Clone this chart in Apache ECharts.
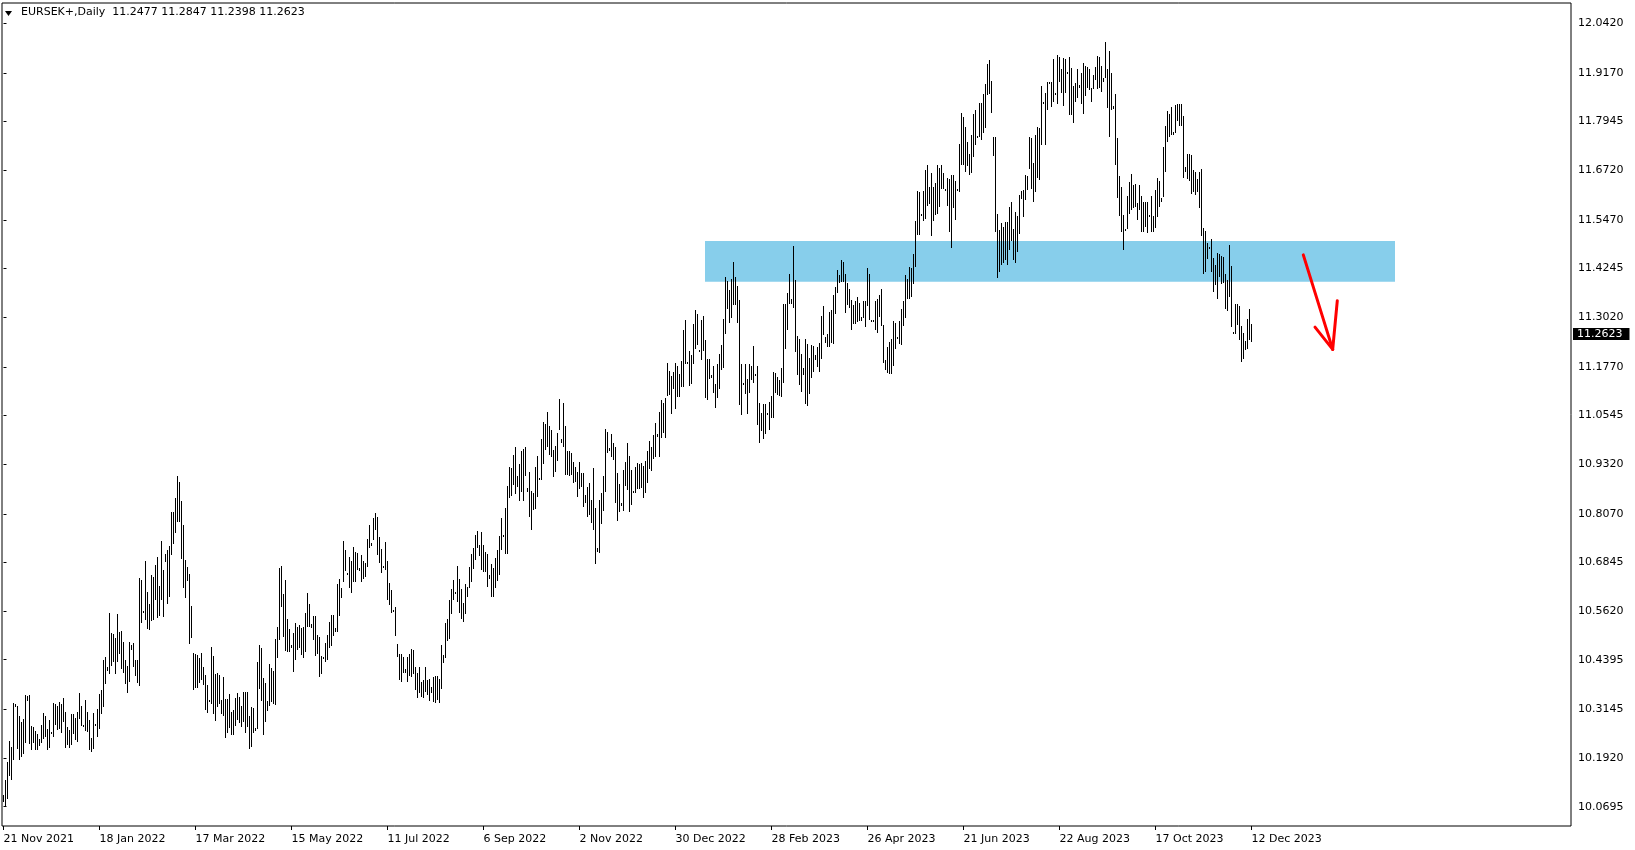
<!DOCTYPE html>
<html>
<head>
<meta charset="utf-8">
<script src="https://cdn.jsdelivr.net/npm/echarts@6/dist/echarts.min.js"></script>
<style>
html,body{margin:0;padding:0;background:#fff;}
#chart{width:1635px;height:850px;}
</style>
</head>
<body>
<div id="chart"></div>
<script>
// ---- DATA ----
const symbolTitle = 'EURSEK+,Daily';
const lastBar = [11.2477, 11.2847, 11.2398, 11.2623]; // O H L C
const dateLabels = ['21 Nov 2021','18 Jan 2022','17 Mar 2022','15 May 2022','11 Jul 2022','6 Sep 2022','2 Nov 2022','30 Dec 2022','28 Feb 2023','26 Apr 2023','21 Jun 2023','22 Aug 2023','17 Oct 2023','12 Dec 2023'];
const dateLabelBars = [0,48,96,144,192,240,288,336,384,432,480,528,576,624];
const priceTicks = [10.0695,10.1920,10.3145,10.4395,10.5620,10.6845,10.8070,10.9320,11.0545,11.1770,11.3020,11.4245,11.5470,11.6720,11.7945,11.9170,12.0420];
// daily bars: [high, low]
const highLow = [
[10.098,10.081],[10.137,10.068],[10.183,10.089],[10.234,10.148],[10.221,10.137],[10.331,10.188],[10.329,10.320],[10.323,10.215],[10.299,10.186],[10.283,10.194],
[10.291,10.203],[10.351,10.230],[10.348,10.336],[10.350,10.228],[10.272,10.213],[10.270,10.230],[10.260,10.213],[10.253,10.213],[10.241,10.222],[10.274,10.230],
[10.306,10.241],[10.299,10.246],[10.266,10.213],[10.287,10.218],[10.258,10.255],[10.330,10.246],[10.329,10.274],[10.322,10.263],[10.333,10.266],[10.327,10.255],
[10.344,10.283],[10.308,10.218],[10.270,10.226],[10.262,10.218],[10.304,10.224],[10.304,10.252],[10.294,10.238],[10.308,10.232],[10.357,10.291],[10.322,10.273],
[10.274,10.272],[10.337,10.260],[10.309,10.258],[10.287,10.211],[10.243,10.207],[10.306,10.215],[10.277,10.273],[10.316,10.246],[10.354,10.266],[10.364,10.304],
[10.438,10.320],[10.446,10.378],[10.420,10.411],[10.558,10.403],[10.508,10.423],[10.504,10.434],[10.495,10.403],[10.554,10.434],[10.509,10.453],[10.512,10.417],
[10.484,10.407],[10.438,10.378],[10.425,10.357],[10.483,10.383],[10.476,10.463],[10.482,10.420],[10.440,10.398],[10.438,10.381],[10.645,10.373],[10.640,10.532],
[10.562,10.558],[10.687,10.540],[10.609,10.517],[10.581,10.514],[10.652,10.537],[10.648,10.540],[10.677,10.589],[10.698,10.545],[10.624,10.549],[10.739,10.591],
[10.665,10.547],[10.705,10.686],[10.717,10.579],[10.725,10.598],[10.812,10.703],[10.812,10.730],[10.848,10.759],[10.902,10.787],[10.886,10.787],[10.839,10.692],
[10.780,10.619],[10.690,10.596],[10.672,10.637],[10.656,10.478],[10.575,10.493],[10.456,10.364],[10.455,10.369],[10.452,10.368],[10.445,10.381],[10.456,10.388],
[10.421,10.375],[10.400,10.314],[10.375,10.305],
[10.338,10.333],[10.472,10.328],[10.450,10.304],[10.403,10.286],[10.405,10.321],[10.400,10.328],[10.338,10.304],
[10.397,10.298],[10.341,10.243],[10.341,10.254],[10.353,10.268],[10.307,10.250],[10.313,10.250],[10.342,10.273],[10.355,10.288],[10.346,10.281],[10.323,10.271],
[10.359,10.283],[10.359,10.254],[10.359,10.271],[10.298,10.216],[10.321,10.219],[10.319,10.254],[10.267,10.261],[10.435,10.264],[10.477,10.367],[10.470,10.336],
[10.394,10.250],[10.380,10.283],[10.336,10.311],[10.429,10.324],[10.418,10.334],[10.411,10.327],[10.492,10.326],[10.523,10.443],[10.671,10.489],[10.676,10.573],
[10.605,10.498],[10.640,10.461],[10.542,10.458],[10.516,10.460],[10.477,10.470],[10.508,10.409],[10.531,10.440],[10.523,10.464],[10.527,10.468],[10.519,10.451],
[10.523,10.443],[10.556,10.458],[10.607,10.523],[10.580,10.523],[10.530,10.520],[10.550,10.488],[10.550,10.449],[10.502,10.454],[10.496,10.395],[10.449,10.404],
[10.447,10.443],[10.482,10.435],[10.502,10.440],[10.535,10.468],[10.552,10.475],[10.552,10.500],[10.519,10.510],[10.630,10.509],[10.643,10.550],[10.619,10.596],
[10.739,10.634],[10.716,10.663],[10.659,10.657],[10.699,10.621],[10.689,10.608],[10.724,10.636],[10.712,10.634],[10.708,10.666],[10.671,10.664],[10.703,10.634],
[10.689,10.642],[10.682,10.647],[10.744,10.674],[10.779,10.720],[10.733,10.727],[10.797,10.741],[10.808,10.766],[10.798,10.702],[10.748,10.682],[10.718,10.657],
[10.676,10.670],[10.737,10.666],[10.687,10.590],[10.632,10.577],[10.614,10.556],[10.565,10.559],[10.573,10.499],[10.479,10.446],[10.454,10.388],[10.453,10.384],
[10.447,10.405],[10.415,10.405],[10.447,10.384],[10.454,10.398],[10.466,10.395],[10.464,10.404],[10.422,10.363],[10.407,10.344],[10.422,10.355],[10.384,10.346],
[10.388,10.344],
[10.422,10.359],[10.388,10.350],[10.390,10.336],[10.371,10.356],[10.395,10.334],[10.398,10.331],[10.399,10.339],[10.390,10.331],[10.476,10.367],
[10.451,10.432],[10.533,10.443],[10.542,10.487],[10.590,10.491],[10.618,10.555],[10.640,10.591],[10.609,10.605],[10.676,10.584],[10.644,10.558],[10.618,10.541],
[10.583,10.535],[10.630,10.554],[10.623,10.597],[10.674,10.619],[10.706,10.636],[10.720,10.667],[10.754,10.691],[10.764,10.720],[10.728,10.701],[10.762,10.665],
[10.728,10.661],[10.712,10.661],[10.707,10.623],[10.652,10.643],[10.681,10.598],[10.670,10.597],[10.695,10.619],[10.716,10.639],[10.751,10.653],[10.796,10.716],
[10.754,10.749],[10.821,10.707],[10.876,10.707],[10.924,10.846],[10.923,10.852],[10.955,10.880],[10.974,10.857],[10.903,10.875],[10.933,10.838],[10.964,10.863],
[10.970,10.838],[10.975,10.902],[10.873,10.863],[10.911,10.798],[10.865,10.765],[10.860,10.817],[10.926,10.819],[10.953,10.850],[10.898,10.895],[10.995,10.892],
[11.037,10.933],[11.032,10.968],[11.064,10.975],[11.028,10.955],[11.018,10.951],[10.968,10.899],[10.978,10.911],[11.010,10.940],[11.096,11.017],[10.995,10.986],
[11.087,10.975],[11.028,10.905],[10.964,10.905],[10.964,10.902],[10.959,10.905],[10.938,10.885],[10.924,10.888],[10.913,10.849],[10.938,10.869],[10.909,10.875],
[10.909,10.825],[10.854,10.833],[10.875,10.800],[10.885,10.804],[10.842,10.783],[10.922,10.766],[10.821,10.680],[10.720,10.712],[10.842,10.709],[10.859,10.781],
[10.902,10.815],[11.020,10.863],[11.014,10.959],[10.972,10.964],[11.008,10.949],[10.986,10.943],[10.976,10.833],[10.909,10.790],[10.881,10.812],[10.833,10.827],
[10.917,10.815],[10.938,10.877],[10.986,10.867],[10.953,10.812],[10.917,10.829],[10.865,10.860],[10.926,10.859],[10.934,10.869],[10.933,10.869],[10.934,10.871],
[10.927,10.846],
[10.940,10.860],[10.965,10.885],[10.990,10.920],[10.975,10.915],
[11.005,10.945],[11.036,10.950],[11.007,11.000],[11.063,10.950],[11.093,10.998],[11.086,11.010],[11.099,10.998],[11.187,11.103],[11.167,11.105],[11.153,11.059],
[11.164,11.121],[11.187,11.072],[11.179,11.101],[11.158,11.101],[11.192,11.126],[11.269,11.125],[11.294,11.184],[11.189,11.187],[11.216,11.129],[11.206,11.133],
[11.284,11.185],[11.321,11.223],[11.311,11.231],[11.219,11.217],[11.294,11.195],[11.305,11.216],[11.244,11.099],[11.198,11.093],[11.196,11.146],[11.156,11.150],
[11.178,11.111],[11.133,11.073],[11.184,11.099],[11.209,11.122],[11.231,11.170],[11.297,11.173],[11.402,11.259],[11.393,11.323],[11.370,11.288],[11.399,11.300],
[11.442,11.332],[11.402,11.332],[11.380,11.288],[11.346,11.080],[11.184,11.057],[11.136,11.135],[11.184,11.108],[11.147,11.059],[11.184,11.110],[11.179,11.143],
[11.229,11.136],[11.158,11.156],[11.178,11.030],[11.087,10.985],[11.062,11.016],[11.083,10.996],[11.084,11.007],[11.062,11.055],[11.089,11.019],[11.103,11.047],
[11.163,11.047],[11.162,11.110],[11.152,11.105],[11.145,11.104],[11.173,11.101],[11.336,11.136],[11.336,11.223],[11.363,11.271],[11.410,11.336],[11.349,11.335],
[11.481,11.324],[11.395,11.215],[11.254,11.156],[11.246,11.131],[11.210,11.114],[11.174,11.156],[11.248,11.083],[11.234,11.079],[11.200,11.108],[11.233,11.149],
[11.229,11.164],[11.206,11.194],[11.226,11.177],[11.236,11.164],[11.305,11.198],[11.330,11.258],[11.252,11.236],[11.259,11.227],[11.315,11.226],[11.320,11.236],
[11.357,11.234],[11.378,11.311],[11.420,11.363],[11.409,11.389],[11.447,11.391],[11.441,11.391],[11.412,11.313],[11.387,11.332],[11.372,11.324],[11.345,11.269],
[11.332,11.286],[11.342,11.286],
[11.353,11.290],[11.337,11.293],[11.303,11.293],[11.343,11.299],[11.343,11.278],[11.427,11.330],[11.410,11.296],[11.296,11.290],[11.294,11.290],
[11.343,11.271],[11.347,11.263],[11.359,11.303],[11.373,11.280],[11.282,11.187],[11.194,11.169],[11.227,11.162],[11.240,11.160],[11.246,11.160],[11.293,11.180],
[11.288,11.223],[11.251,11.248],[11.293,11.234],[11.322,11.232],[11.343,11.280],[11.407,11.300],[11.397,11.349],[11.429,11.349],[11.427,11.352],[11.461,11.385],
[11.544,11.429],[11.620,11.509],[11.618,11.509],[11.562,11.558],[11.620,11.545],[11.673,11.549],[11.685,11.582],[11.631,11.586],[11.666,11.507],[11.631,11.545],
[11.639,11.559],[11.685,11.561],[11.677,11.580],[11.685,11.624],[11.666,11.624],[11.624,11.621],[11.652,11.583],[11.650,11.517],[11.660,11.477],[11.660,11.576],
[11.646,11.547],[11.625,11.621],[11.738,11.616],[11.815,11.685],[11.807,11.685],[11.782,11.668],[11.744,11.683],[11.713,11.660],[11.761,11.666],[11.814,11.706],
[11.824,11.736],[11.759,11.755],[11.842,11.755],[11.842,11.748],[11.863,11.767],[11.888,11.778],[11.940,11.862],[11.950,11.864],[11.897,11.817],[11.755,11.708],
[11.755,11.517],[11.562,11.400],[11.521,11.417],[11.540,11.433],[11.530,11.438],[11.542,11.446],[11.542,11.433],[11.580,11.471],[11.593,11.495],[11.523,11.446],
[11.568,11.439],[11.557,11.467],[11.610,11.511],[11.621,11.599],[11.622,11.555],[11.660,11.597],[11.658,11.622],[11.755,11.674],[11.754,11.624],[11.689,11.593],
[11.761,11.618],[11.780,11.652],[11.778,11.647],[11.883,11.736],[11.845,11.841],[11.866,11.736],[11.893,11.824],[11.895,11.891],[11.895,11.832],[11.951,11.845],
[11.866,11.862],[11.962,11.839],[11.958,11.895],[11.926,11.867],[11.954,11.834],[11.951,11.866],[11.920,11.918],[11.958,11.811],[11.929,11.811],[11.883,11.792],
[11.892,11.845],[11.926,11.853],[11.887,11.880],[11.916,11.839],[11.941,11.813],[11.935,11.860],[11.933,11.878],[11.928,11.874],[11.878,11.845],[11.913,11.877],
[11.933,11.899],[11.960,11.877],[11.958,11.880],[11.934,11.868],[11.905,11.895],[11.996,11.905],[11.926,11.828],[11.971,11.756],[11.916,11.824],[11.834,11.826],
[11.863,11.685],[11.754,11.601],[11.658,11.557],[11.630,11.517],[11.559,11.472],[11.525,11.523],[11.607,11.524],[11.643,11.563],[11.662,11.572],[11.635,11.576],
[11.637,11.579],[11.589,11.546],[11.635,11.572],[11.607,11.516],[11.593,11.516],[11.593,11.530],[11.593,11.513],[11.559,11.555],[11.608,11.517],[11.558,11.516],
[11.622,11.526],[11.652,11.555],[11.645,11.580],[11.603,11.593],[11.731,11.605],[11.784,11.667],[11.821,11.744],[11.813,11.756],[11.830,11.761],[11.769,11.762],
[11.836,11.765],[11.840,11.796],[11.838,11.784],[11.840,11.784],[11.808,11.653],[11.681,11.667],[11.714,11.650],[11.714,11.646],[11.710,11.611],[11.673,11.618],
[11.668,11.610],[11.650,11.618],[11.668,11.578],[11.674,11.507],[11.527,11.410],[11.519,11.415],[11.490,11.448],[11.478,11.474],[11.499,11.417],[11.450,11.366],
[11.433,11.383],[11.463,11.348],[11.460,11.404],[11.457,11.385],[11.454,11.387],[11.412,11.323],[11.396,11.318],[11.484,11.354],[11.432,11.278],[11.265,11.263],
[11.334,11.259],[11.334,11.282],[11.330,11.244],[11.280,11.188],[11.261,11.197],[11.242,11.219],[11.297,11.222],[11.322,11.244],[11.2847,11.2398]
];
// annotations in data coordinates: [bar index, price]
const zone = [[350.75, 11.4939], [695.75, 11.3914]];
const arrowSegments = [
  [[649.9, 11.459], [664.6, 11.221]],
  [[655.75, 11.277], [664.6, 11.221]],
  [[664.6, 11.221], [666.9, 11.3435]]
];

// ---- CHART ----
const FONT = 'DejaVu Sans';
const chart = echarts.init(document.getElementById('chart'), null, {renderer: 'canvas'});
const barData = highLow.map((d, i) => [i, d[0], d[1]]);

chart.setOption({
  animation: false,
  backgroundColor: '#ffffff',
  grid: {left: 2, top: 3, right: 64, bottom: 24, show: true, borderColor: '#000', borderWidth: 1, backgroundColor: '#fff'},
  xAxis: {
    type: 'value', min: -0.75, max: 783.75,
    axisLine: {show: false},
    splitLine: {show: false},
    axisTick: {show: true, customValues: dateLabelBars, length: 4, lineStyle: {color: '#000'}},
    axisLabel: {
      customValues: dateLabelBars, align: 'left', margin: 8,
      color: '#000', fontFamily: FONT, fontSize: 11,
      formatter: v => dateLabels[dateLabelBars.indexOf(Math.round(v))] || ''
    }
  },
  yAxis: {
    type: 'value', position: 'right', min: 10.0209, max: 12.0931, scale: true,
    axisLine: {show: false},
    splitLine: {show: false},
    axisTick: {show: true, customValues: priceTicks, length: 3, lineStyle: {color: '#000'}},
    axisLabel: {
      customValues: priceTicks, margin: 7,
      color: '#000', fontFamily: FONT, fontSize: 11,
      formatter: v => v.toFixed(4)
    }
  },
  series: [
    {
      type: 'line', data: [], silent: true, z: 1,
      markArea: {
        silent: true,
        itemStyle: {color: '#87CEEB', opacity: 1},
        data: [[{coord: zone[0]}, {coord: zone[1]}]]
      }
    },
    {
      type: 'custom', z: 3, silent: true,
      data: barData,
      encode: {x: 0, y: [1, 2]},
      renderItem: function (params, api) {
        const i = api.value(0);
        const a = api.coord([i, api.value(1)]);
        const b = api.coord([i, api.value(2)]);
        const x = Math.floor(a[0]) + 0.5;
        const y1 = Math.round(a[1]);
        let y2 = Math.round(b[1]);
        if (y2 - y1 < 2) y2 = y1 + 2;
        return {
          type: 'line',
          shape: {x1: x, y1: y1, x2: x, y2: y2},
          style: {stroke: '#000', lineWidth: 1}
        };
      },
      markLine: {
        silent: true, symbol: ['none', 'none'],
        lineStyle: {width: 0, color: 'rgba(0,0,0,0)', type: 'solid'},
        emphasis: {disabled: true},
        label: {
          show: true, position: 'end', distance: 2,
          formatter: lastBar[3].toFixed(4),
          backgroundColor: '#000', color: '#fff', opacity: 1,
          fontFamily: FONT, fontSize: 11, padding: [1, 7, 0, 4]
        },
        data: [{yAxis: lastBar[3]}]
      }
    },
    {
      type: 'lines', coordinateSystem: 'cartesian2d', z: 5, silent: true,
      polyline: false,
      lineStyle: {color: '#ff0000', width: 3, opacity: 1, curveness: 0, cap: 'round'},
      data: arrowSegments.map(s => ({coords: s}))
    }
  ],
  graphic: [
    {type: 'polygon', left: 5, top: 11, shape: {points: [[0, 0], [7, 0], [3.5, 5]]}, style: {fill: '#000'}, z: 10},
    {type: 'text', left: 21, top: 7, z: 10,
     style: {text: symbolTitle + '  ' + lastBar.map(v => v.toFixed(4)).join(' '), fill: '#000', font: '11px "DejaVu Sans"'}}
  ]
});
</script>
</body>
</html>
